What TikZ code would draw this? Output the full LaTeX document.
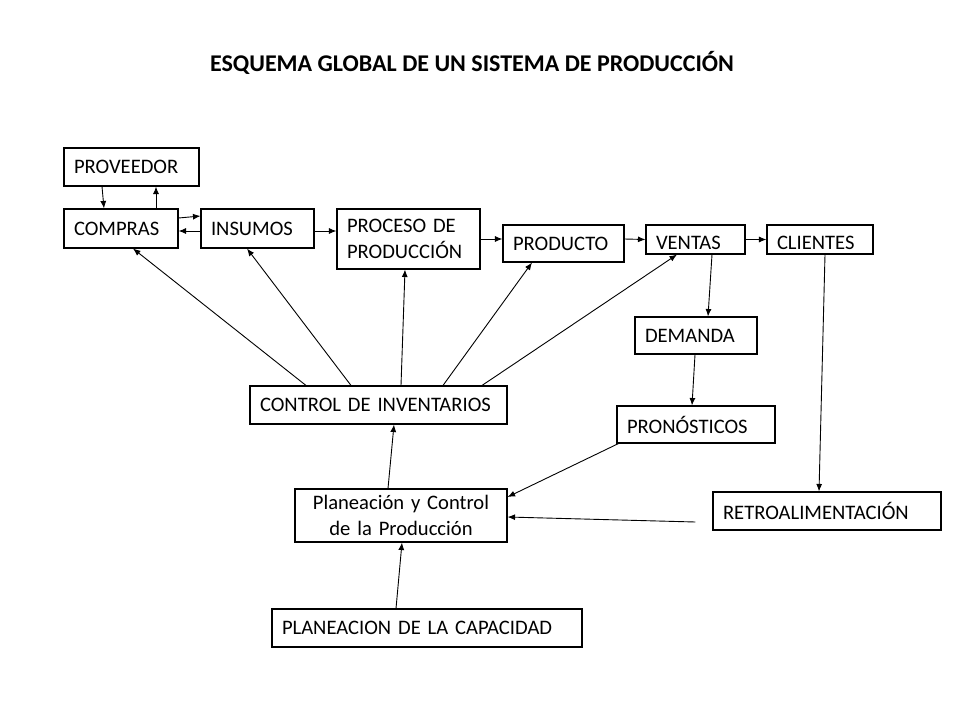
\documentclass[tikz,border=0pt]{standalone}
\usepackage{fontspec}
\setmainfont{Carlito}
\usetikzlibrary{arrows.meta}
\hyphenpenalty=10000
\exhyphenpenalty=10000
\tikzset{
  bx/.style={draw, line width=1.1pt, inner xsep=10pt, inner ysep=0pt, align=left,
    font=\fontsize{20.6}{25.5}\selectfont},
  bxc/.style={bx, align=center},
  arr/.style={line width=0.9pt, -{Latex[length=7.5pt,width=6pt]}},
  ttl/.style={font=\fontsize{24}{28}\selectfont\bfseries}
}
\newcommand{\lowtxt}[1]{\raisebox{-3pt}[\height][\depth]{#1}}
\begin{document}
\begin{tikzpicture}[x=1pt,y=-1pt]
\useasboundingbox[fill=white] (0,0) rectangle (960,720);
\node[ttl] (title) at (472,63) {ESQUEMA GLOBAL DE UN SISTEMA DE PRODUCCIÓN};

\node[bx, text width=115pt, minimum height=38pt] (prov) at (131.5,167) {PROVEEDOR};
\node[bx, text width=94pt, minimum height=39pt] (comp) at (121,228.5) {COMPRAS};
\node[bx, text width=93pt, minimum height=39pt] (insu) at (257.5,228.5) {INSUMOS};
\node[bx, text width=123pt, minimum height=60pt] (proc) at (408.5,239) {PROCESO DE\\PRODUCCIÓN};
\node[bx, text width=101pt, minimum height=37pt] (prod) at (563.5,243.5) {PRODUCTO};
\node[bx, text width=79pt, minimum height=29pt] (vent) at (695.5,239.5) {\lowtxt{VENTAS}};
\node[bx, text width=86pt, minimum height=29pt] (clie) at (820,239.5) {\lowtxt{CLIENTES}};
\node[bx, text width=102pt, minimum height=37pt] (dema) at (696,335.5) {DEMANDA};
\node[bx, text width=138pt, minimum height=37pt] (pron) at (696,424.5) {PRONÓSTICOS};
\node[bx, text width=237pt, minimum height=38pt] (ctrl) at (378.5,405) {CONTROL DE INVENTARIOS};
\node[bxc, text width=192pt, minimum height=53pt] (plan) at (401,515.5) {Planeación y Control\\de la Producción};
\node[bx, text width=208pt, minimum height=38pt] (retro) at (827,511) {RETROALIMENTACIÓN};
\node[bx, text width=290pt, minimum height=38pt] (capa) at (427,628) {PLANEACION DE LA CAPACIDAD};

\coordinate (retroout) at ([xshift=-17pt,yshift=-11pt]retro.west);

\draw[arr] ([xshift=-29.5pt]prov.south) -- ([xshift=-17pt]comp.north);
\draw[arr] ([xshift=35pt]comp.north) -- ([xshift=24.5pt]prov.south);
\draw[arr] ([yshift=10.5pt]comp.east) -- ([yshift=12.5pt]insu.west);
\draw[arr] ([yshift=-2.5pt]insu.west) -- ([yshift=-2.5pt]comp.east);
\draw[arr] ([yshift=-2.5pt]insu.east) -- ([yshift=8pt]proc.west);
\draw[arr] (proc.east) -- ([yshift=4.5pt]prod.west);
\draw[arr] ([yshift=4.5pt]prod.east) -- (vent.west);
\draw[arr] (vent.east) -- (clie.west);
\draw[arr] ([xshift=16.5pt]vent.south) -- ([xshift=12pt]dema.north);
\draw[arr] ([xshift=-1pt]dema.south) -- ([xshift=-4pt]pron.north);
\draw[arr] ([xshift=5pt]clie.south) -- ([xshift=-8pt]retro.north);
\draw[arr] ([xshift=2pt]pron.south west) -- ([yshift=18.5pt]plan.east);
\draw[arr] (retroout) -- ([yshift=-1.5pt]plan.east);
\draw[arr] ([xshift=-13pt]plan.north) -- ([xshift=15.5pt]ctrl.south);
\draw[arr] ([xshift=-31pt]capa.north) -- ([xshift=1pt]plan.south);
\draw[arr] ([xshift=-72.5pt]ctrl.north) -- ([xshift=12pt]comp.south);
\draw[arr] ([xshift=-27.5pt]ctrl.north) -- ([xshift=-10.5pt]insu.south);
\draw[arr] ([xshift=22.5pt]ctrl.north) -- ([xshift=-3.5pt]proc.south);
\draw[arr] ([xshift=64.5pt]ctrl.north) -- ([xshift=-31.5pt]prod.south);
\draw[arr] ([xshift=103.5pt]ctrl.north) -- ([xshift=-18.5pt]vent.south);
\end{tikzpicture}
\end{document}
